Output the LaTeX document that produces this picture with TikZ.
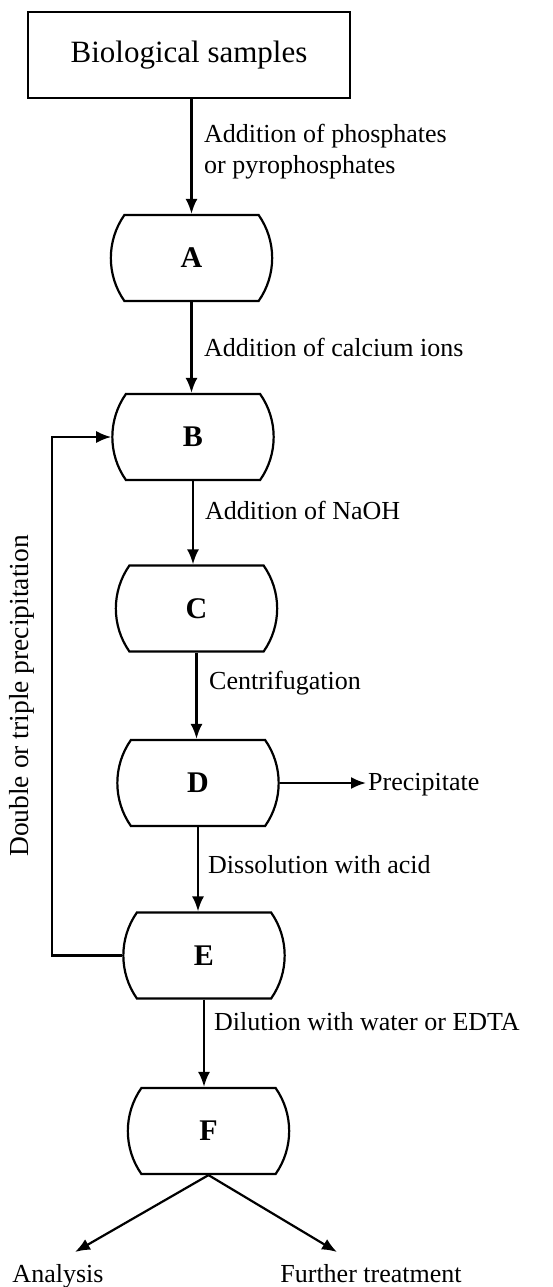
\documentclass[tikz,border=0pt]{standalone}
\usepackage{fontspec}
\setmainfont{Liberation Serif}
\usetikzlibrary{arrows.meta,shapes.misc}
\tikzset{
  stage/.style={draw,line width=2.2pt,rounded rectangle,rounded rectangle arc length=70,
    minimum width=168pt,minimum height=86pt,font=\fontsize{30}{34}\selectfont\bfseries},
  source/.style={draw,line width=2.2pt,minimum width=322pt,minimum height=86pt,
    font=\fontsize{31}{36}\selectfont},
  note/.style={font=\fontsize{26}{31}\selectfont,align=left,inner sep=2pt},
  flow/.style={line width=2.2pt,-{Latex[length=15pt,width=12pt]}}
}
\begin{document}
\begin{tikzpicture}[x=1pt,y=-1pt]
      \useasboundingbox (0,0) rectangle (553,1287);
      \draw
        (189,55) node[source] (samples){Biological samples}
        (191.5,258) node[stage] (A){A}
        (193,437) node[stage] (B){B}
        (196.5,608.5) node[stage] (C){C}
        (198,783) node[stage] (D){D}
        (204,955.5) node[stage] (E){E}
        (208.5,1131) node[stage] (F){F};
      \draw
        (202,152) node[note,anchor=west] (phos){Addition of phosphates\\or pyrophosphates}
        (202,347) node[note,anchor=west] (calc){Addition of calcium ions}
        (203,510) node[note,anchor=west] (naoh){Addition of NaOH}
        (207,683) node[note,anchor=west] (cent){Centrifugation}
        (206,865) node[note,anchor=west] (diss){Dissolution with acid}
        (212,1022) node[note,anchor=west] (dil){Dilution with water or EDTA}
        (366,785) node[note,anchor=west] (prec){Precipitate}
        (22,696) node[note,rotate=90,font=\fontsize{27.5}{31}\selectfont] (repeat){Double or triple precipitation}
        (58,1282) node[note,anchor=base] (analysis){Analysis}
        (371,1282) node[note,anchor=base] (further){Further treatment};
      \coordinate (loop) at (52,955.5);
      \coordinate (tipL) at (75,1252);
      \coordinate (tipR) at (337,1252);
      \begin{scope}[flow]
        \draw (samples.south -| A.north) -- (A.north);
        \draw (A.south) -- (A.south |- B.north);
        \draw (B.south) -- (B.south |- C.north);
        \draw (C.south) -- (C.south |- D.north);
        \draw (D.south) -- (D.south |- E.north);
        \draw (E.south) -- (E.south |- F.north);
        \draw (D.east) -- (D.east -| prec.west);
        \draw (E.west) -- (loop) |- (B.west);
        \draw (F.south) -- (tipL);
        \draw (F.south) -- (tipR);
      \end{scope}
    \end{tikzpicture}
\end{document}
